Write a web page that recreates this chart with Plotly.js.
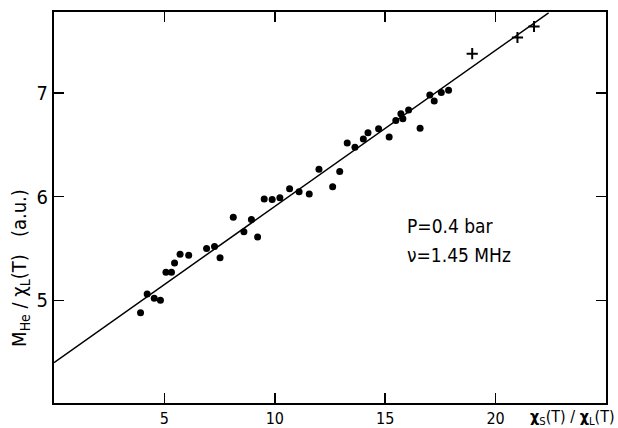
<!DOCTYPE html>
<html><head><meta charset="utf-8">
<script src="https://cdn.plot.ly/plotly-3.0.1.min.js"></script>
<style>html,body{margin:0;padding:0;background:#fff}#c{width:618px;height:428px}</style>
</head><body><div id="c"></div>
<script>
const dotX = [3.92,4.22,4.54,4.82,5.07,5.32,5.46,5.71,6.10,6.91,7.27,7.52,8.12,8.60,8.94,9.22,9.52,9.88,10.23,10.67,11.10,11.56,12.00,12.62,12.94,13.28,13.63,14.01,14.22,14.70,15.18,15.48,15.71,15.80,16.06,16.58,17.02,17.22,17.54,17.87];
const dotY = [4.88,5.06,5.02,5.00,5.27,5.27,5.36,5.445,5.435,5.50,5.52,5.41,5.80,5.66,5.78,5.61,5.976,5.973,5.99,6.075,6.046,6.024,6.264,6.094,6.242,6.517,6.475,6.555,6.616,6.654,6.574,6.734,6.80,6.75,6.834,6.658,6.98,6.923,7.003,7.026];
const crossX = [18.94,20.99,21.74];
const crossY = [7.378,7.534,7.64];
const fitX = [0,22.4];
const fitY = [4.40,4.40+0.1505*22.4];
const xTicks = [5,10,15,20];
const yTicks = [5,6,7];

const FONT = '"Liberation Sans Narrow","DejaVu Sans Condensed","DejaVu Sans",sans-serif';

const traces = [
  {x: fitX, y: fitY, mode: 'lines', line: {color: '#000', width: 1.5}, showlegend: false, hoverinfo: 'skip'},
  {x: dotX, y: dotY, mode: 'markers', marker: {color: '#000', size: 7, symbol: 'circle'}, showlegend: false},
  {x: crossX, y: crossY, mode: 'markers', marker: {color: '#000', size: 8, symbol: 'cross-thin', line: {color: '#000', width: 2}}, showlegend: false}
];

const axisCommon = {
  showgrid: false, zeroline: false, showline: true, linecolor: '#000', linewidth: 2,
  mirror: 'ticks', ticks: 'inside', ticklen: 10, tickwidth: 1.5, tickcolor: '#000'
};

const layout = {
  width: 618, height: 428,
  margin: {l: 54, r: 12, t: 12, b: 25},
  paper_bgcolor: '#fff', plot_bgcolor: '#fff',
  xaxis: Object.assign({}, axisCommon, {range: [0, 25], tickvals: xTicks, ticktext: xTicks.map(String),
    tickfont: {family: FONT, size: 16, color: '#000'}, ticklabelstandoff: 0}),
  yaxis: Object.assign({}, axisCommon, {range: [4.01, 7.78], tickvals: yTicks, ticktext: yTicks.map(String),
    tickfont: {family: FONT, size: 20, color: '#000'}}),
  annotations: [
    {xref: 'x', yref: 'y', x: 15.9, y: 5.72, xanchor: 'left', yanchor: 'middle', showarrow: false,
     text: 'P=0.4 bar', font: {family: FONT, size: 19, color: '#000'}},
    {xref: 'x', yref: 'y', x: 15.9, y: 5.44, xanchor: 'left', yanchor: 'middle', showarrow: false,
     text: 'ν=1.45 MHz', font: {family: FONT, size: 19, color: '#000'}},
    {xref: 'paper', yref: 'paper', x: 1.02, y: -0.005, xanchor: 'right', yanchor: 'top', showarrow: false,
     text: '<b>χ</b><sub>S</sub>(T) / <b>χ</b><sub>L</sub>(T)', font: {family: FONT, size: 16, color: '#000'}},
    {xref: 'paper', yref: 'paper', x: -0.062, y: 0.345, xanchor: 'center', yanchor: 'middle', showarrow: false, textangle: -90,
     text: 'M<sub>He</sub> / χ<sub>L</sub>(T)   (a.u.)', font: {family: FONT, size: 20, color: '#000'}}
  ]
};

Plotly.newPlot('c', traces, layout, {displayModeBar: false, staticPlot: true});
</script>
</body></html>
